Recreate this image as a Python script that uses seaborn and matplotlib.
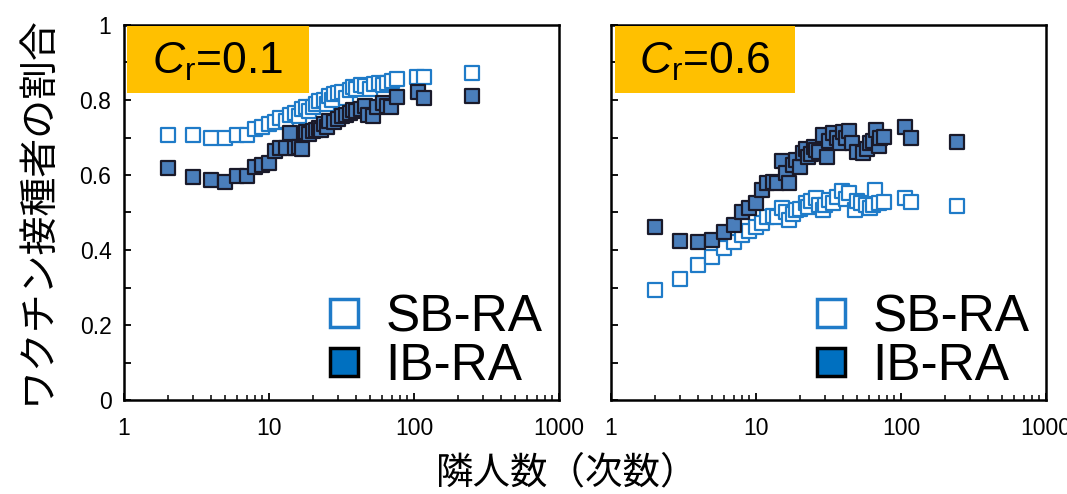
import matplotlib
matplotlib.use("Agg")
import matplotlib.pyplot as plt
import matplotlib.ticker as mticker
from matplotlib.lines import Line2D
from matplotlib.patches import Rectangle
import seaborn as sns
import pandas as pd

# ---------------- data ----------------
panel_titles = ["0.1", "0.6"]
series_names = ["SB-RA", "IB-RA"]

left_sb_k = [2, 3, 4, 5, 6, 7, 8, 9, 10, 11, 12, 13, 14, 15, 16, 17, 18, 19, 20, 21, 22, 24, 25,
             26, 27, 28, 30, 32, 34, 36, 38, 40, 43, 46, 50, 53, 57, 61, 65, 70, 76, 105, 118, 250]
left_sb_v = [0.708, 0.708, 0.700, 0.698, 0.708, 0.707, 0.722, 0.727, 0.735, 0.742, 0.751, 0.745,
             0.760, 0.765, 0.758, 0.775, 0.780, 0.770, 0.782, 0.790, 0.796, 0.800, 0.790, 0.810,
             0.800, 0.815, 0.820, 0.822, 0.805, 0.826, 0.835, 0.830, 0.840, 0.837, 0.828, 0.842,
             0.844, 0.840, 0.846, 0.850, 0.857, 0.862, 0.862, 0.871]

left_ib_k = [2, 3, 4, 5, 6, 7, 8, 9, 10, 11, 12, 13, 14, 15, 16, 17, 18, 19, 20, 21, 22, 23, 24,
             25, 26, 28, 30, 32, 34, 36, 38, 40, 43, 46, 48, 52, 56, 61, 65, 69, 76, 107, 118, 250]
left_ib_v = [0.618, 0.594, 0.587, 0.582, 0.597, 0.597, 0.620, 0.627, 0.632, 0.665, 0.671, 0.672,
             0.713, 0.671, 0.675, 0.668, 0.715, 0.710, 0.716, 0.720, 0.725, 0.720, 0.735, 0.727,
             0.745, 0.740, 0.750, 0.756, 0.760, 0.765, 0.773, 0.770, 0.775, 0.784, 0.760, 0.756,
             0.780, 0.791, 0.785, 0.780, 0.809, 0.822, 0.804, 0.811]

right_sb_k = [2, 3, 4, 5, 6, 7, 8, 9, 10, 11, 12, 13, 14, 15, 16, 17, 18, 19, 20, 22, 23, 24, 26,
              27, 29, 30, 32, 34, 36, 39, 42, 44, 48, 50, 53, 57, 61, 64, 66, 70, 76, 107, 118, 244]
right_sb_v = [0.293, 0.324, 0.360, 0.382, 0.404, 0.420, 0.440, 0.450, 0.462, 0.473, 0.487, 0.490,
              0.487, 0.511, 0.500, 0.480, 0.495, 0.507, 0.510, 0.526, 0.515, 0.530, 0.538, 0.520,
              0.507, 0.520, 0.533, 0.525, 0.540, 0.556, 0.535, 0.551, 0.507, 0.530, 0.524, 0.520,
              0.511, 0.520, 0.560, 0.525, 0.529, 0.538, 0.529, 0.517]

right_ib_k = [2, 3, 4, 5, 6, 7, 8, 9, 10, 11, 12, 13, 14, 15, 16, 17, 18, 19, 20, 21, 22, 23, 24,
              25, 26, 27, 29, 31, 32, 34, 36, 38, 40, 42, 44, 46, 50, 55, 58, 61, 64, 67, 70, 72,
              76, 107, 118, 244]
right_ib_v = [0.460, 0.424, 0.422, 0.427, 0.449, 0.467, 0.502, 0.511, 0.526, 0.560, 0.579, 0.580,
              0.579, 0.638, 0.604, 0.579, 0.627, 0.640, 0.620, 0.658, 0.668, 0.649, 0.655, 0.675,
              0.667, 0.660, 0.707, 0.649, 0.690, 0.711, 0.700, 0.684, 0.715, 0.700, 0.716, 0.684,
              0.662, 0.658, 0.670, 0.684, 0.690, 0.720, 0.676, 0.700, 0.702, 0.727, 0.698, 0.689]

x_ticks = [1, 10, 100, 1000]
x_tick_labels = ["1", "10", "100", "1000"]
y_ticks = [0, 0.2, 0.4, 0.6, 0.8, 1.0]
y_tick_labels = ["0", "0.2", "0.4", "0.6", "0.8", "1"]

ylabel = "ワクチン接種者の割合"
xlabel = "隣人数（次数）"

# ---------------- style ----------------
sns.set_style("ticks")
plt.rcParams['font.family'] = ['Liberation Sans', 'Noto Sans CJK JP', 'DejaVu Sans']
plt.rcParams['mathtext.fontset'] = 'custom'
plt.rcParams['mathtext.rm'] = 'Liberation Sans'
plt.rcParams['mathtext.it'] = 'Liberation Sans:italic'
plt.rcParams['text.color'] = 'black'
plt.rcParams['axes.labelcolor'] = 'black'
plt.rcParams['xtick.color'] = 'black'
plt.rcParams['ytick.color'] = 'black'

SB_EDGE = "#1F7BC8"
IB_FACE = "#4A7EBB"
IB_EDGE = "#1A1A2A"
LEG_IB_FACE = "#0070C0"
BOX = "#FFC000"

fig = plt.figure(figsize=(10.67, 4.94), dpi=100)
W, H = 1067, 494
ax_l = fig.add_axes([124 / W, 1 - 400 / H, 435 / W, 375 / H])
ax_r = fig.add_axes([611 / W, 1 - 400 / H, 435 / W, 375 / H])

panels = [
    (ax_l, left_sb_k, left_sb_v, left_ib_k, left_ib_v, panel_titles[0], True, (0.007, 0.425)),
    (ax_r, right_sb_k, right_sb_v, right_ib_k, right_ib_v, panel_titles[1], False, (0.009, 0.423)),
]

for ax, sbk, sbv, ibk, ibv, title, show_ylab, (bx0, bx1) in panels:
    df_sb = pd.DataFrame({"k": sbk, "v": sbv})
    df_ib = pd.DataFrame({"k": ibk, "v": ibv})
    sns.scatterplot(data=df_sb, x="k", y="v", ax=ax, marker="s", s=105,
                    facecolor="white", edgecolor=SB_EDGE, linewidth=1.6, zorder=3)
    sns.scatterplot(data=df_ib, x="k", y="v", ax=ax, marker="s", s=105,
                    facecolor=IB_FACE, edgecolor=IB_EDGE, linewidth=1.6, zorder=4)
    ax.set_xscale("log")
    ax.set_xlim(1, 1000)
    ax.set_ylim(0, 1)
    ax.set_xlabel("")
    ax.set_ylabel("")
    ax.set_xticks(x_ticks)
    ax.set_xticklabels(x_tick_labels)
    ax.xaxis.set_minor_locator(mticker.LogLocator(base=10, subs=range(2, 10)))
    ax.xaxis.set_minor_formatter(mticker.NullFormatter())
    ax.set_yticks([i / 10 for i in range(11)])
    if show_ylab:
        ax.set_yticklabels([y_tick_labels[i // 2] if i % 2 == 0 else "" for i in range(11)])
    else:
        ax.set_yticklabels([])
    ax.tick_params(axis="both", which="major", direction="in", length=5, width=1.3,
                   labelsize=16.5, color="black", labelcolor="black")
    ax.tick_params(axis="x", which="major", pad=12)
    ax.tick_params(axis="y", which="major", pad=9)
    ax.tick_params(axis="x", which="minor", direction="in", length=3.5, width=1.1)
    for sp in ax.spines.values():
        sp.set_visible(True)
        sp.set_linewidth(1.8)
        sp.set_color("black")

    ax.add_patch(Rectangle((bx0, 0.818), bx1 - bx0, 0.179, transform=ax.transAxes,
                           facecolor=BOX, edgecolor="none", zorder=5))
    ax.text((bx0 + bx1) / 2, 0.902, r"$\mathit{C}_{\mathrm{r}}$=" + title,
            transform=ax.transAxes, ha="center", va="center", fontsize=32, zorder=6)

    handles = [
        Line2D([], [], linestyle="none", marker="s", markersize=20, markerfacecolor="white",
               markeredgecolor=SB_EDGE, markeredgewidth=2.5),
        Line2D([], [], linestyle="none", marker="s", markersize=20, markerfacecolor=LEG_IB_FACE,
               markeredgecolor="black", markeredgewidth=2.5),
    ]
    ax.legend(handles, series_names, loc="lower right", bbox_to_anchor=(1.045, -0.072),
              frameon=False, fontsize=37, handletextpad=0.3, labelspacing=0.0,
              borderpad=0.2, handlelength=1.0)

fig.text(37 / W, 1 - 210 / H, ylabel, rotation=90, ha="center", va="center", fontsize=28,
         family=['Noto Sans CJK JP', 'DejaVu Sans'])
fig.text(567 / W, 1 - 473 / H, xlabel, ha="center", va="center", fontsize=27,
         family=['Noto Sans CJK JP', 'DejaVu Sans'])

fig.savefig("out.png", dpi=100)
